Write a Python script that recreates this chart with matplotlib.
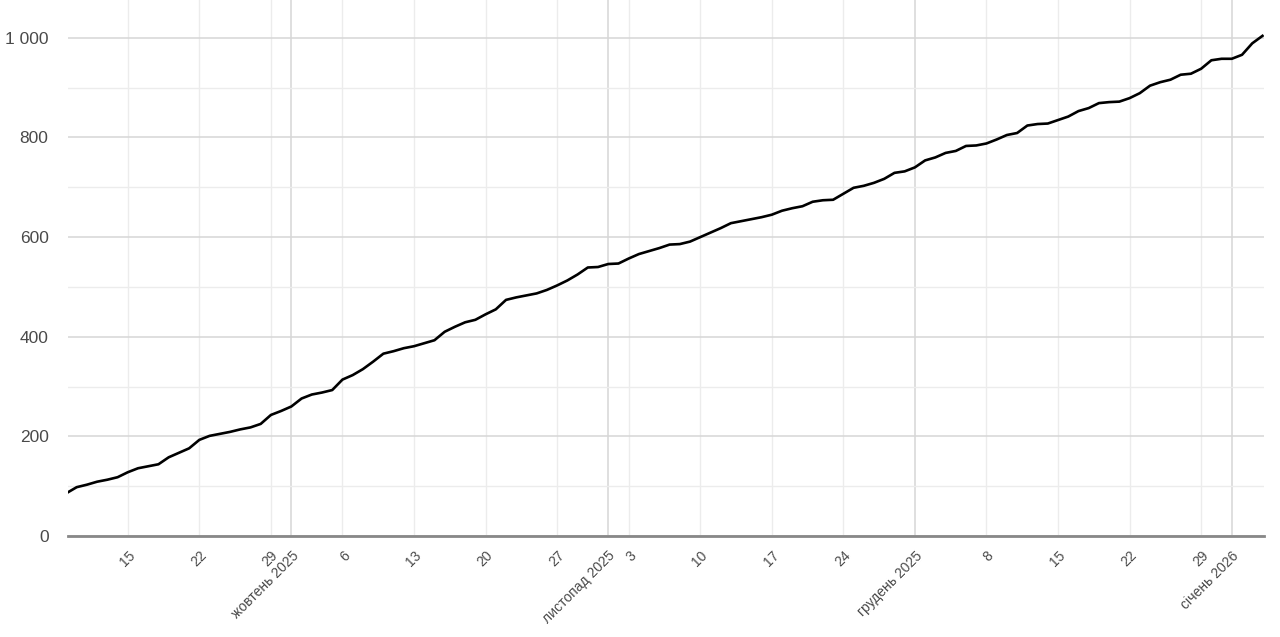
import datetime as dt

import matplotlib
matplotlib.use("Agg")
import matplotlib.pyplot as plt
import matplotlib.dates as mdates
from matplotlib.ticker import FuncFormatter, MultipleLocator

plt.rcParams["font.family"] = ["Liberation Sans", "DejaVu Sans"]

# daily cumulative values, 9 Sep 2025 .. 4 Jan 2026
start_date = dt.date(2025, 9, 9)
values = [
    86, 98, 103, 109, 113, 118, 128, 136, 140, 144,
    158, 167, 176, 193, 201, 205, 209, 214, 218, 225,
    243, 251, 260, 276, 284, 288, 293, 314, 323, 335,
    350, 366, 371, 377, 381, 387, 393, 410, 420, 429,
    434, 445, 455, 474, 479, 483, 487, 494, 503, 513,
    525, 539, 540, 546, 547, 557, 566, 572, 578, 585,
    586, 591, 600, 609, 618, 628, 632, 636, 640, 645,
    653, 658, 662, 671, 674, 675, 687, 699, 703, 709,
    717, 729, 732, 740, 754, 760, 769, 773, 783, 784,
    788, 796, 805, 809, 824, 827, 828, 835, 842, 853,
    859, 869, 871, 872, 879, 889, 904, 911, 916, 926,
    928, 938, 955, 958, 958, 966, 989, 1004,
]
dates = [start_date + dt.timedelta(days=i) for i in range(len(values))]

month_names = {10: "жовтень", 11: "листопад", 12: "грудень", 1: "січень"}

fig = plt.figure(figsize=(12.8, 6.37), dpi=100)
ax = fig.add_axes([68 / 1280, 101 / 637, 1196 / 1280, 536 / 637])

ax.plot(dates, values, color="black", linewidth=1.9, zorder=3)

ax.set_xlim(mdates.date2num(dates[0]) + 0.15, mdates.date2num(dates[-1]) + 0.15)
ax.set_ylim(0, 1076)

# x axis: months as major, Mondays as minor
ax.xaxis.set_major_locator(mdates.MonthLocator())
ax.xaxis.set_minor_locator(mdates.WeekdayLocator(byweekday=mdates.MO))
ax.xaxis.set_major_formatter(FuncFormatter(
    lambda x, pos: f"{month_names[mdates.num2date(x).month]} {mdates.num2date(x).year}"))
ax.xaxis.set_minor_formatter(FuncFormatter(
    lambda x, pos: str(mdates.num2date(x).day)))

# y axis
ax.yaxis.set_major_locator(MultipleLocator(200))
ax.yaxis.set_minor_locator(MultipleLocator(100))
ax.yaxis.set_major_formatter(FuncFormatter(lambda v, pos: f"{v:,.0f}".replace(",", " ")))

ax.grid(which="major", axis="both", color="#d6d6d6", linewidth=1.1)
ax.grid(which="minor", axis="both", color="#ececec", linewidth=1.0)
ax.set_axisbelow(True)

for side in ("top", "right", "left"):
    ax.spines[side].set_visible(False)
ax.spines["bottom"].set_color("#888888")
ax.spines["bottom"].set_linewidth(2)
ax.spines["bottom"].set_zorder(4)

ax.tick_params(axis="both", which="both", length=0, colors="#4a4a4a")
ax.tick_params(axis="y", labelsize=12.5, pad=14)
ax.tick_params(axis="x", which="both", labelsize=10, pad=9)
for lbl in ax.get_xticklabels(which="both"):
    lbl.set_rotation(45)
    lbl.set_ha("right")
    lbl.set_rotation_mode("anchor")

fig.savefig("out.png", dpi=100)
